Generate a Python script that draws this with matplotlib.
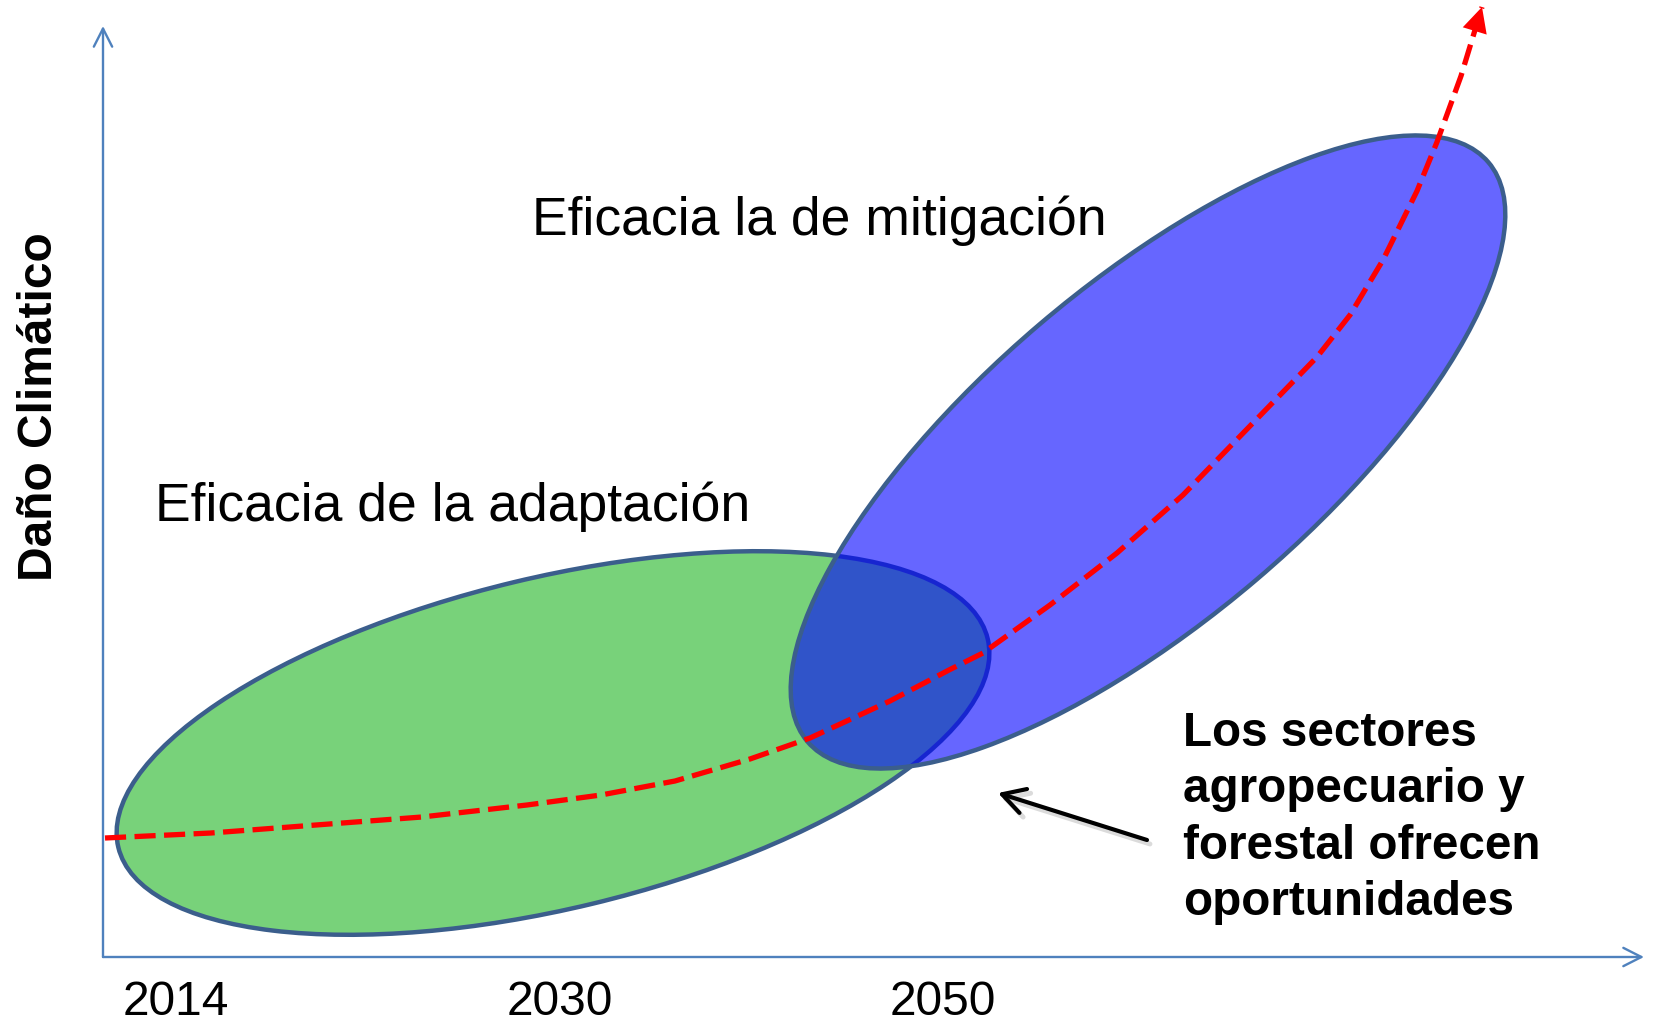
import matplotlib
matplotlib.use("Agg")
import matplotlib.pyplot as plt
from matplotlib.patches import Ellipse

plt.rcParams['font.family'] = ['Liberation Sans', 'DejaVu Sans']

# ---- data (units: pixels, origin at the axes corner, y upward) ----
W, H = 1653, 1022
X0, Y0 = 103, 957

tick_labels = ["2014", "2030", "2050"]
tick_pos = [73, 457, 840]

y_label = "Daño Climático"
title_mit = "Eficacia la de mitigación"
title_adapt = "Eficacia de la adaptación"
note_lines = ["Los sectores", "agropecuario y", "forestal ofrecen", "oportunidades"]

green_center = (450, 214)
green_axes = (894, 331)
green_angle = 13.5

blue_center = (1045, 505)
blue_axes = (894, 335)
blue_angle = 40.4

curve_x = [2, 108, 213, 319, 424, 498, 572, 647, 707, 787, 846, 880, 947, 1014,
           1080, 1147, 1214, 1247, 1280, 1314, 1334, 1358, 1379]
curve_y = [119, 124, 132, 140, 152, 162, 176, 198, 219, 256, 287, 304, 352, 404,
           462, 531, 600, 642, 697, 766, 815, 881, 950]

arrow_tail = (1044, 117)
arrow_tip = (895, 164)

x_axis_end = 1541
y_axis_end = 931

# ---- styles ----
axis_color = "#4F81BD"
edge_color = "#3B5E8C"
green_fill = "#78D27A"

fig = plt.figure(figsize=(W / 100, H / 100), dpi=100)
ax = fig.add_axes([0, 0, 1, 1])
ax.set_xlim(-X0, W - X0)
ax.set_ylim(-(H - Y0), Y0)
ax.axis("off")

# axes arrows
for end in [(0, y_axis_end), (x_axis_end, 0)]:
    ax.annotate("", xy=end, xytext=(0, 0),
                arrowprops=dict(arrowstyle="->,head_length=0.65,head_width=0.33",
                                color=axis_color, lw=1.7, mutation_scale=20,
                                shrinkA=0, shrinkB=0))

# tick labels
for lab, xp in zip(tick_labels, tick_pos):
    ax.text(xp, -45, lab, fontsize=34.5, ha="center", va="center", color="black")

# y label
ax.text(-63, 550, y_label, fontsize=34.5, fontweight="bold", rotation=90,
        ha="center", va="center", color="black")

# ellipses
ax.add_patch(Ellipse(green_center, green_axes[0], green_axes[1], angle=green_angle,
                     facecolor=green_fill, edgecolor=edge_color, lw=3.2, zorder=2))
ax.add_patch(Ellipse(blue_center, blue_axes[0], blue_axes[1], angle=blue_angle,
                     facecolor=(0, 0, 1, 0.6), edgecolor="none", zorder=3))
ax.add_patch(Ellipse(blue_center, blue_axes[0], blue_axes[1], angle=blue_angle,
                     facecolor="none", edgecolor=edge_color, lw=3.2, zorder=4))

# red dashed curve with filled arrow head at the end
ax.plot(curve_x, curve_y, color="red", lw=3.8, dashes=(4.0, 1.6),
        solid_capstyle="butt", zorder=5)
ax.annotate("", xy=(curve_x[-1], curve_y[-1]), xytext=(curve_x[-2], curve_y[-2]),
            arrowprops=dict(arrowstyle="-|>,head_length=0.9,head_width=0.45",
                            facecolor="red", edgecolor="none", lw=0,
                            mutation_scale=20, shrinkA=0, shrinkB=0), zorder=6)

# titles
ax.text(429, 736, title_mit, fontsize=38.5, ha="left", va="center", color="black")
ax.text(52, 450, title_adapt, fontsize=38.5, ha="left", va="center", color="black")

# note text
ax.text(1080, 139, "\n".join(note_lines), fontsize=34.3, fontweight="bold",
        ha="left", va="center", linespacing=1.32, color="black")

# black arrow with soft shadow
ax.annotate("", xy=(arrow_tip[0] + 3, arrow_tip[1] - 4),
            xytext=(arrow_tail[0] + 3, arrow_tail[1] - 4),
            arrowprops=dict(arrowstyle="->,head_length=0.8,head_width=0.45",
                            color="#999999", alpha=0.35, lw=3.5, mutation_scale=20,
                            shrinkA=0, shrinkB=0), zorder=6)
ax.annotate("", xy=arrow_tip, xytext=arrow_tail,
            arrowprops=dict(arrowstyle="->,head_length=0.8,head_width=0.45",
                            color="black", lw=3, mutation_scale=20,
                            shrinkA=0, shrinkB=0), zorder=7)

fig.savefig("out.png", dpi=100)
